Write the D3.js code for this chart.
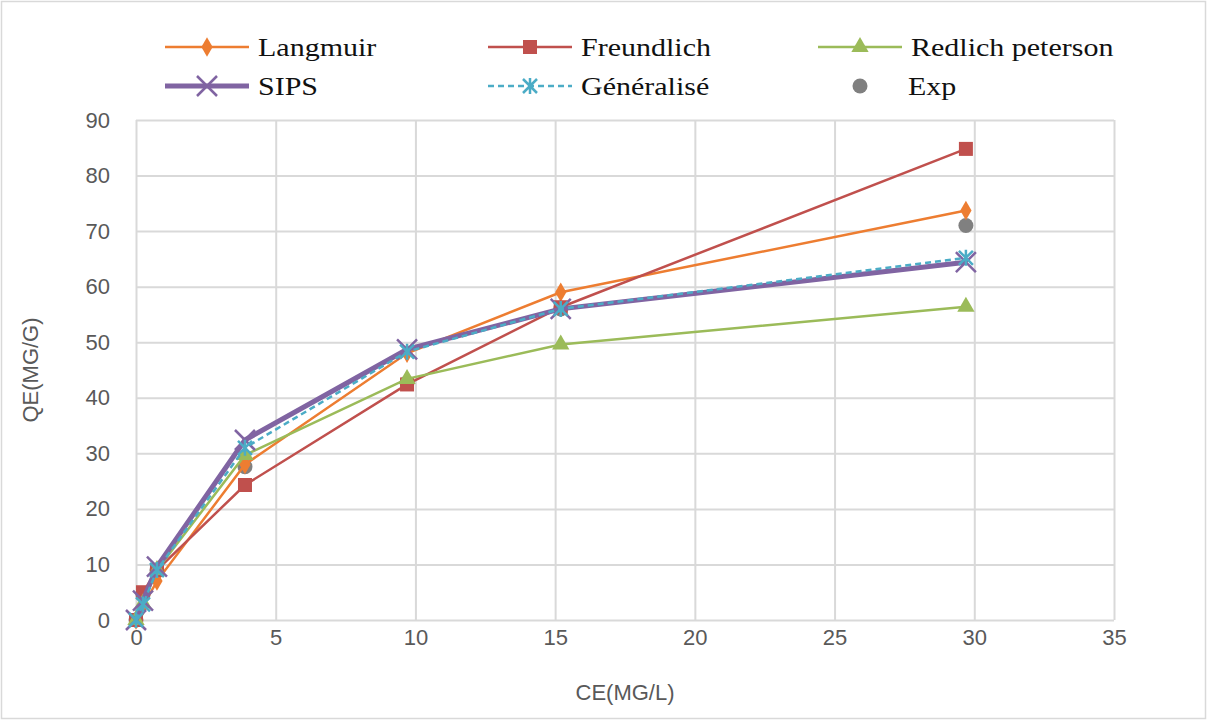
<!DOCTYPE html>
<html>
<head>
<meta charset="utf-8">
<script src="https://cdn.jsdelivr.net/npm/d3@7"></script>
<style>
  body { margin: 0; background: #fff; }
  .tick text { font-family: "Liberation Sans", Arial, sans-serif; font-size: 22px; fill: #595959; }
  .legendText { font-family: "Liberation Serif", "Times New Roman", serif; font-size: 25px; fill: #111; }
  .axisTitle { font-family: "Liberation Sans", Arial, sans-serif; font-size: 22px; fill: #595959; }
</style>
</head>
<body>
<div id="chart"></div>
<script>
// Data
const ce = [0, 0.25, 0.75, 3.9, 9.7, 15.2, 29.7];
const langmuir = [0, 2.5, 7, 28, 48, 59, 73.7];
const freundlich = [0, 5, 9, 24.3, 42.4, 56.3, 84.8];
const redlich = [0, 3, 9, 29.7, 43.4, 49.6, 56.4];
const sips = [0, 3.5, 9.6, 32.4, 48.7, 56, 64.4];
const generalise = [0, 2.8, 9, 31, 48.3, 56, 65.2];
const exp = [0, 4.5, 9, 27.6, 42.7, 56, 71];
const xTicks = [0, 5, 10, 15, 20, 25, 30, 35];
const yTicks = [0, 10, 20, 30, 40, 50, 60, 70, 80, 90];

const svgWidth = 1207;
const svgHeight = 720;
const margin = { top: 120, right: 93, bottom: 100, left: 136 };
const chartWidth = svgWidth - margin.left - margin.right;
const chartHeight = svgHeight - margin.top - margin.bottom;

const svg = d3.select("#chart")
  .append("svg")
  .attr("width", svgWidth)
  .attr("height", svgHeight);

// outer border
svg.append("rect")
  .attr("x", 1.5).attr("y", 1.5)
  .attr("width", svgWidth - 3).attr("height", svgHeight - 3)
  .attr("fill", "#fff").attr("stroke", "#d9d9d9").attr("stroke-width", 1.5);

const chartGroup = svg.append("g")
  .attr("transform", `translate(${margin.left}, ${margin.top})`);

const xScale = d3.scaleLinear().domain([0, 35]).range([0, chartWidth]);
const yScale = d3.scaleLinear().domain([0, 90]).range([chartHeight, 0]);

// grid lines
chartGroup.append("g")
  .call(d3.axisLeft(yScale).tickValues(yTicks).tickSize(-chartWidth).tickFormat(""))
  .call(g => g.select(".domain").remove())
  .selectAll("line").attr("stroke", "#d9d9d9").attr("stroke-width", 2);
chartGroup.append("g")
  .attr("transform", `translate(0, ${chartHeight})`)
  .call(d3.axisBottom(xScale).tickValues(xTicks).tickSize(-chartHeight).tickFormat(""))
  .call(g => g.select(".domain").remove())
  .selectAll("line").attr("stroke", "#d9d9d9").attr("stroke-width", 2);

// tick labels
chartGroup.append("g")
  .call(d3.axisLeft(yScale).tickValues(yTicks).tickSize(0).tickPadding(26))
  .call(g => g.select(".domain").remove());
chartGroup.append("g")
  .attr("transform", `translate(0, ${chartHeight})`)
  .call(d3.axisBottom(xScale).tickValues(xTicks).tickSize(0).tickPadding(9))
  .call(g => g.select(".domain").remove());

// axis titles
chartGroup.append("text")
  .attr("class", "axisTitle")
  .attr("x", chartWidth / 2)
  .attr("y", chartHeight + 80)
  .attr("text-anchor", "middle")
  .text("CE(MG/L)");
chartGroup.append("text")
  .attr("class", "axisTitle")
  .attr("transform", `translate(${-98}, ${chartHeight / 2}) rotate(-90)`)
  .attr("text-anchor", "middle")
  .text("QE(MG/G)");

const series = [
  { name: "Langmuir", values: langmuir, color: "#ED7D31", width: 2.5, dash: null, marker: "diamond" },
  { name: "Freundlich", values: freundlich, color: "#C0504D", width: 2.5, dash: null, marker: "square" },
  { name: "Redlich peterson", values: redlich, color: "#9BBB59", width: 2.5, dash: null, marker: "triangle" },
  { name: "SIPS", values: sips, color: "#8064A2", width: 5, dash: null, marker: "x" },
  { name: "Généralisé", values: generalise, color: "#4BACC6", width: 2.5, dash: "6,4", marker: "star" },
  { name: "Exp", values: exp, color: "#808080", width: 0, dash: null, marker: "circle" }
];

function drawMarker(g, type, color) {
  if (type === "diamond") {
    g.append("path").attr("d", d3.symbol(d3.symbolDiamond, 110)()).attr("fill", color);
  } else if (type === "square") {
    g.append("rect").attr("x", -7).attr("y", -7).attr("width", 14).attr("height", 14).attr("fill", color);
  } else if (type === "triangle") {
    g.append("path").attr("d", d3.symbol(d3.symbolTriangle, 130)()).attr("fill", color);
  } else if (type === "x") {
    g.append("path").attr("d", "M-10,-10L10,10M-10,10L10,-10").attr("stroke", color).attr("stroke-width", 2.5);
  } else if (type === "star") {
    g.append("path").attr("d", "M-7,-7L7,7M-7,7L7,-7M0,-8L0,8").attr("stroke", color).attr("stroke-width", 2.5);
  } else if (type === "circle") {
    g.append("circle").attr("r", 7.5).attr("fill", color);
  }
}

const line = d3.line()
  .x(d => xScale(d[0]))
  .y(d => yScale(d[1]));

// Draw order: Exp under, then models; SIPS and Généralisé on top
const drawOrder = [5, 0, 1, 2, 3, 4];
drawOrder.forEach(i => {
  const s = series[i];
  const pts = ce.map((c, j) => [c, s.values[j]]);
  if (s.width > 0) {
    chartGroup.append("path")
      .datum(pts)
      .attr("d", line)
      .attr("fill", "none")
      .attr("stroke", s.color)
      .attr("stroke-width", s.width)
      .attr("stroke-dasharray", s.dash);
  }
  pts.forEach(p => {
    const g = chartGroup.append("g")
      .attr("transform", `translate(${xScale(p[0])}, ${yScale(p[1])})`);
    drawMarker(g, s.marker, s.color);
  });
});

// legend
const legendCols = [165, 488, 818];
const legendRows = [47, 86];
series.forEach((s, i) => {
  const lx = legendCols[i % 3];
  const ly = legendRows[Math.floor(i / 3)];
  const g = svg.append("g").attr("transform", `translate(${lx}, ${ly})`);
  if (s.width > 0) {
    g.append("line")
      .attr("x1", 0).attr("x2", 84).attr("y1", 0).attr("y2", 0)
      .attr("stroke", s.color).attr("stroke-width", s.width)
      .attr("stroke-dasharray", s.dash);
  }
  const m = g.append("g").attr("transform", "translate(42, 0)");
  drawMarker(m, s.marker, s.color);
  g.append("text")
    .attr("class", "legendText")
    .attr("transform", `translate(${s.name === "Exp" ? 90 : 93}, 9) scale(1.2, 1)`)
    .text(s.name);
});
</script>
</body>
</html>
